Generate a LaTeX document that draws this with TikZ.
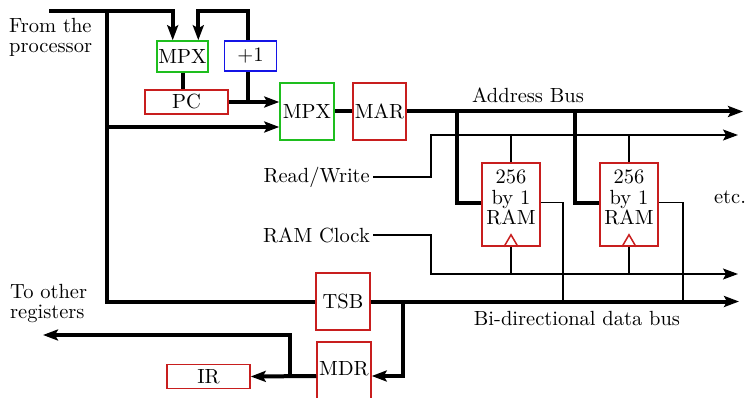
\documentclass[tikz,border=0pt]{standalone}
\usepackage{fontspec}
\setmainfont{lmroman10-regular}[Extension=.otf]
\usetikzlibrary{arrows.meta,calc}
\definecolor{bred}{RGB}{200,30,30}
\definecolor{bgreen}{RGB}{30,190,30}
\definecolor{bblue}{RGB}{20,20,230}
\begin{document}
\begin{tikzpicture}[x=1pt,y=-1pt,
  font=\fontsize{20.5}{20.5}\selectfont,
  bus/.style={line width=4pt},
  wire/.style={line width=1.2pt},
  arr/.style={-{Stealth[length=15pt,width=11pt,inset=3pt]}},
  reg/.style={draw=#1, line width=1.5pt, inner sep=0pt, align=center},
  txt/.style={inner sep=0pt},
]
\useasboundingbox (0,0) rectangle (746,398);

% registers
\node[reg=bgreen, minimum width=51pt, minimum height=31pt] (mpx1) at (182.5,56.5) {MPX};
\node[reg=bblue, minimum width=52pt, minimum height=30pt] (plus) at (250.5,56) {+1};
\node[reg=bred, minimum width=83pt, minimum height=24pt] (pc) at (186.5,102) {PC};
\node[reg=bgreen, minimum width=54pt, minimum height=57pt] (mpx2) at (307,111.5) {MPX};
\node[reg=bred, minimum width=53pt, minimum height=57pt] (mar) at (379.5,111.5) {MAR};
\node[reg=bred, minimum width=58pt, minimum height=83pt] (ram1) at (511,204.5) {256\\by 1\\RAM\rule[-14pt]{0pt}{0pt}};
\node[reg=bred, minimum width=58pt, minimum height=83pt] (ram2) at (629,204.5) {256\\by 1\\RAM\rule[-14pt]{0pt}{0pt}};
\node[reg=bred, minimum width=54pt, minimum height=57pt] (tsb) at (343,301.5) {TSB};
\node[reg=bred, minimum width=54pt, minimum height=68pt] (mdr) at (344,376) {MDR\rule[-16pt]{0pt}{0pt}};
\node[reg=bred, minimum width=83pt, minimum height=24pt] (ir) at (208.5,376.5) {IR};

% clock marks
\foreach \r in {ram1,ram2}
  \draw[bred, line width=1.5pt] ([xshift=-7pt]\r.south) -- ([yshift=12pt]\r.south) -- ([xshift=7pt]\r.south);

% texts
\node[txt, align=left, anchor=west] (from) at (9,37.5) {From the\\processor};
\node[txt, align=left, anchor=west] (toreg) at (10,303.5) {To other\\registers};
\node[txt, inner xsep=3pt, anchor=east] (rw) at (373,177) {Read/Write};
\node[txt, inner xsep=3pt, anchor=east] (clk) at (373,235) {RAM Clock};
\node[txt] (abus) at (528,95) {Address Bus};
\node[txt] (etc) at (730,197) {etc.};
\node[txt] (dbus) at (577,318) {Bi-directional data bus};

% coordinates
\coordinate (pin) at (49,11);
\coordinate (vtop) at (107,11);
\coordinate (j2) at (107,127);
\coordinate (j1) at (248.2,102);
\coordinate (loopt) at (248.2,11);
\coordinate (abend) at (743,111.5);
\coordinate (b1) at (457,111.5);
\coordinate (b2) at (575,111.5);
\coordinate (rwc) at (431,135);
\coordinate (rwend) at (738,135);
\coordinate (clkc) at (431,274);
\coordinate (clkend) at (738,274);
\coordinate (dbend) at (739,301.5);
\coordinate (d1) at (563,301.5);
\coordinate (d2) at (683,301.5);
\coordinate (j3) at (403,301.5);
\coordinate (j4) at (290,376);
\coordinate (toregend) at (43,335);

% thick buses
\draw[bus,arr] (pin) -| ([xshift=-9.8pt]mpx1.north);
\draw[bus] (vtop) |- (tsb.west);
\draw[bus,arr] (j2) -- (j2 -| mpx2.west);
\draw[bus] (mpx1.south) -- (mpx1.south |- pc.north);
\draw[bus,arr] (pc.east) -- (pc.east -| mpx2.west);
\draw[bus] (j1) -- (j1 |- plus.south);
\draw[bus,arr] (j1 |- plus.north) -- (loopt) -| ([xshift=15.8pt]mpx1.north);
\draw[bus] (mpx2.east) -- (mar.west);
\draw[bus,arr] (mar.east) -- (abend);
\draw[bus] (b1) |- ([yshift=1.5pt]ram1.west);
\draw[bus] (b2) |- ([yshift=1.5pt]ram2.west);
\draw[bus,arr] (tsb.east) -- (dbend);
\draw[bus,arr] (j3) |- (mdr.east);
\draw[bus,arr] (mdr.west) -- (ir.east);
\draw[bus,arr] (j4) |- (toregend);

% thin wires
\draw[wire,arr] (rw.east) -| (rwc) -- (rwend);
\draw[wire,arr] (clk.east) -| (clkc) -- (clkend);
\foreach \r in {ram1,ram2}{
  \draw[wire] (\r.north) -- (\r.north |- rwend);
  \draw[wire] (\r.south) -- (\r.south |- clkend);
}
\draw[wire] ([yshift=2pt]ram1.east) -| (d1);
\draw[wire] ([yshift=2pt]ram2.east) -| (d2);
\end{tikzpicture}
\end{document}
